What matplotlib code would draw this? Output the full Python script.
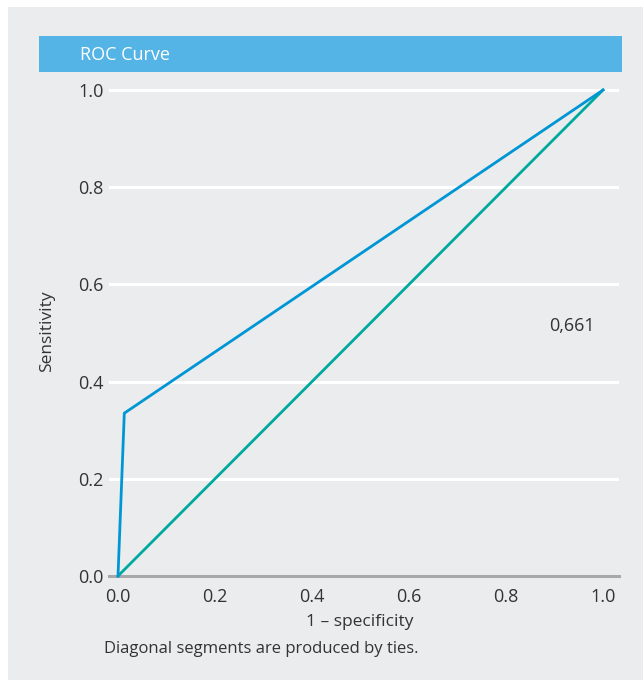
import matplotlib.pyplot as plt
from matplotlib.patches import Rectangle

W, H = 643, 680

# ROC data
fpr = [0.0, 0.013, 1.0]
tpr = [0.0, 0.335, 1.0]
ref_x = [0.0, 1.0]
ref_y = [0.0, 1.0]
auc_label = "0,661"
ticks = [0.0, 0.2, 0.4, 0.6, 0.8, 1.0]

plt.rcParams["font.family"] = ["Open Sans", "DejaVu Sans"]

fig = plt.figure(figsize=(W / 100, H / 100), dpi=100)
fig.patch.set_facecolor("white")
bg = "#ebeced"
txt = "#333333"


def fx(px):
    return px / W


def fy(py):
    return 1 - py / H


fig.patches.append(Rectangle((fx(8), 0), 1 - fx(8), fy(7), transform=fig.transFigure,
                             facecolor=bg, edgecolor="none", zorder=-10))
fig.patches.append(Rectangle((fx(39), fy(72)), fx(622) - fx(39), fy(36) - fy(72),
                             transform=fig.transFigure, facecolor="#55b4e6",
                             edgecolor="none", zorder=1))
fig.text(fx(80), fy(55), "ROC Curve", color="white", fontsize=13, va="center", ha="left")

# axes: x 109..619 px, y 576 (0) .. 90 (1.0)
x0_px, x1_px = 118, 603
left, right = 109, 619
top, bottom = 86, 576
ax = fig.add_axes([fx(left), fy(bottom), fx(right) - fx(left), fy(top) - fy(bottom)])
ax.set_zorder(2)
ax.set_facecolor(bg)
sc = (x1_px - x0_px)
ax.set_xlim((left - x0_px) / sc, (right - x0_px) / sc)
ax.set_ylim(0, (bottom - top) / (576 - 90))

for t in ticks[1:]:
    ax.axhline(t, color="white", lw=2.2, zorder=1)

ax.plot(ref_x, ref_y, color="#00a99d", lw=2, zorder=3, clip_on=False)
ax.plot(fpr, tpr, color="#0096d6", lw=2, zorder=4, clip_on=False)
ax.text(0.936, 0.514, auc_label, fontsize=13, color=txt, ha="center", va="center")

for s in ["top", "right", "left"]:
    ax.spines[s].set_visible(False)
ax.spines["bottom"].set_color("#a8a8a8")
ax.spines["bottom"].set_linewidth(2.2)
ax.set_xticks(ticks)
ax.set_yticks(ticks)
ax.set_xticklabels([f"{t:.1f}" for t in ticks])
ax.set_yticklabels([f"{t:.1f}" for t in ticks])
ax.tick_params(length=0, labelsize=13, colors=txt)
ax.tick_params(axis="x", pad=9)
ax.tick_params(axis="y", pad=4)

fig.text(fx(360), fy(622), "1 \u2013 specificity", fontsize=12.5, color=txt,
         ha="center", va="center")
fig.text(fx(47), fy(331), "Sensitivity", fontsize=12.5, color=txt,
         ha="center", va="center", rotation=90)
fig.text(fx(104), fy(649), "Diagonal segments are produced by ties.", fontsize=12,
         color=txt, ha="left", va="center")

fig.savefig("out.png", dpi=100, facecolor=fig.get_facecolor())
